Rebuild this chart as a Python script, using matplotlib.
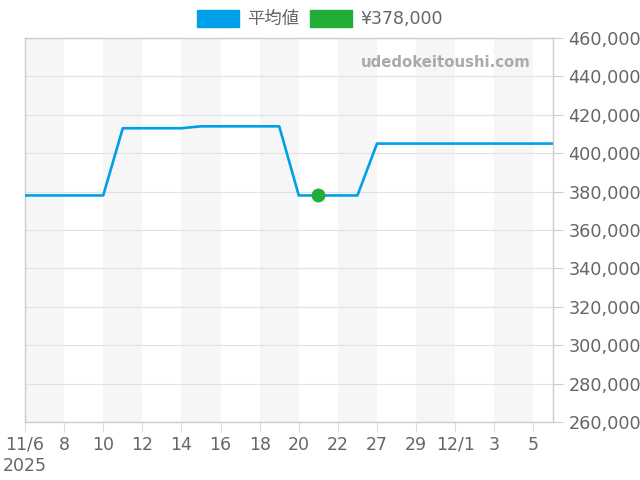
import matplotlib.pyplot as plt
import matplotlib.patches as mpatches
import numpy as np

plt.rcParams['font.family'] = ['DejaVu Sans', 'Noto Sans CJK JP']

# categorical dates (days without data are skipped)
dates = ["11/6", "7", "8", "9", "10", "11", "12", "13", "14", "15", "16", "17",
         "18", "19", "20", "21", "22", "25", "27", "28", "29", "30", "12/1", "2",
         "3", "4", "5", "6"]
avg_price = [378000, 378000, 378000, 378000, 378000, 413000, 413000, 413000,
             413000, 414000, 414000, 414000, 414000, 414000, 378000, 378000,
             378000, 378000, 405000, 405000, 405000, 405000, 405000, 405000,
             405000, 405000, 405000, 405000]
current_idx = 15
current_price = 378000

LINE_COLOR = "#00a0e9"
DOT_COLOR = "#22ac38"
TEXT_COLOR = "#666666"

fig = plt.figure(figsize=(6.4, 4.8), dpi=100)
ax = fig.add_axes([25 / 640, 1 - 422 / 480, 528 / 640, 384 / 480])

x = np.arange(len(dates))
xmin, xmax = 0, len(dates) - 1

# alternating background bands, two categories wide
for start in range(0, len(dates), 4):
    ax.axvspan(start, min(start + 2, xmax), color="#f6f6f6", zorder=0, lw=0)

ax.plot(x, avg_price, color=LINE_COLOR, lw=1.9, zorder=3)
ax.scatter([current_idx], [current_price], s=100, color=DOT_COLOR, zorder=4,
           linewidths=0)

ax.set_xlim(xmin, xmax)
ax.set_ylim(260000, 460000)
ax.set_yticks(np.arange(260000, 460001, 20000))
ax.yaxis.tick_right()
ax.set_yticklabels([f"{v:,}" for v in range(260000, 460001, 20000)])
ax.grid(axis="y", color="#e2e2e2", lw=0.8, zorder=1)

tick_pos = list(range(0, len(dates) - 1, 2))
tick_labels = [dates[i] for i in tick_pos]
tick_labels[0] = tick_labels[0] + "\n2025"
ax.set_xticks(tick_pos)
ax.set_xticklabels(tick_labels, linespacing=1.2)

ax.tick_params(axis="x", length=7, color="#dddddd", labelsize=12.5,
               labelcolor=TEXT_COLOR, pad=3)
ax.tick_params(axis="y", length=7, color="#cccccc", labelsize=12.7,
               labelcolor=TEXT_COLOR, pad=4)
for s in ax.spines.values():
    s.set_color("#cccccc")
    s.set_linewidth(1)

ax.text(0.957, 0.935, "udedokeitoushi.com", transform=ax.transAxes, ha="right",
        va="center", fontsize=10.7, fontweight="bold", color="#aaaaaa", zorder=5)

handles = [mpatches.Patch(color=LINE_COLOR, label="平均値"),
           mpatches.Patch(color=DOT_COLOR, label=f"¥{current_price:,}")]
fig.legend(handles=handles, loc="center", bbox_to_anchor=(0.5, 1 - 19 / 480),
           ncol=2, frameon=False, fontsize=12.5, handlelength=2.4,
           handleheight=1.2, handletextpad=0.5, columnspacing=0.6,
           labelcolor=TEXT_COLOR)

fig.savefig("out.png", dpi=100)
